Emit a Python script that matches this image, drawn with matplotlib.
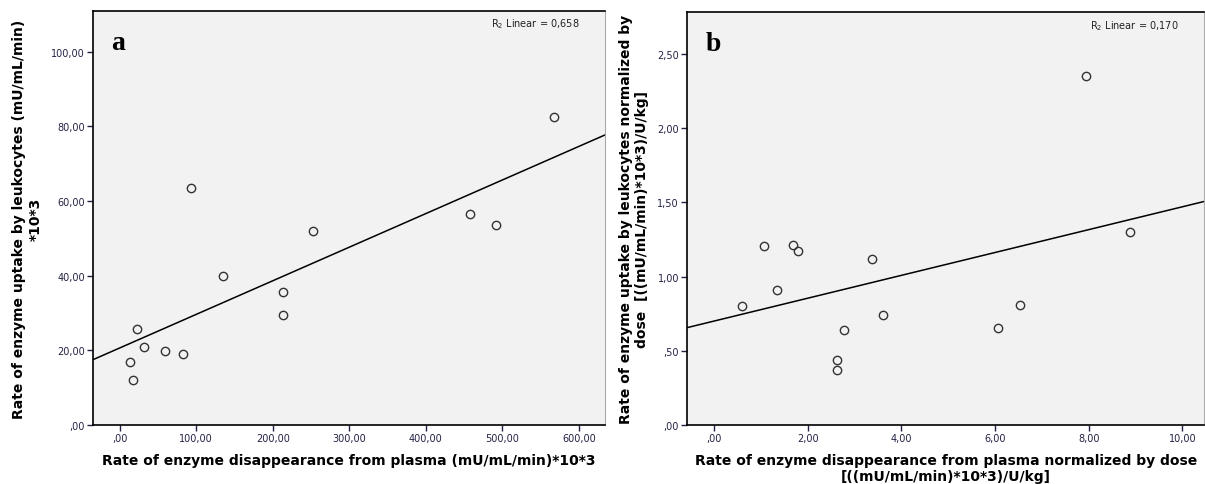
import numpy as np
import matplotlib.pyplot as plt
from matplotlib.ticker import FuncFormatter

# data
plasma_a = [12.8, 16.7, 22.4, 31.0, 59.4, 82.5, 93.3, 134.7, 213.0, 213.0, 253.0, 457.6, 491.5, 567.6]
uptake_a = [16.9, 12.1, 25.7, 20.8, 19.9, 19.0, 63.4, 40.0, 35.5, 29.6, 52.0, 56.5, 53.5, 82.5]

plasma_b = [0.60, 1.07, 1.34, 1.69, 1.79, 2.63, 2.63, 2.77, 3.37, 3.60, 6.06, 6.53, 7.93, 8.88]
uptake_b = [0.80, 1.206, 0.907, 1.213, 1.175, 0.44, 0.368, 0.638, 1.12, 0.739, 0.654, 0.809, 2.354, 1.298]

r2_a = "0,658"
r2_b = "0,170"

xlab_a = "Rate of enzyme disappearance from plasma (mU/mL/min)*10*3"
ylab_a = "Rate of enzyme uptake by leukocytes (mU/mL/min)\n*10*3"
xlab_b = "Rate of enzyme disappearance from plasma normalized by dose\n[((mU/mL/min)*10*3)/U/kg]"
ylab_b = "Rate of enzyme uptake by leukocytes normalized by\ndose  [((mU/mL/min)*10*3)/U/kg]"


def spss_fmt(v, pos):
    s = "%.2f" % v
    s = s.replace(".", ",")
    if s.startswith("0,"):
        s = s[1:]
    if s.startswith("-0,"):
        s = "-" + s[2:]
    return s


def panel(ax, x, y, xlim, ylim, xticks, yticks, letter, r2, xlab, ylab):
    ax.set_facecolor("#f2f2f2")
    x = np.array(x)
    y = np.array(y)
    k, b = np.polyfit(x, y, 1)
    xx = np.array(xlim)
    ax.plot(xx, k * xx + b, color="black", lw=1.1)
    ax.plot(x, y, "o", mfc="none", mec="#333333", mew=1.0, ms=6)
    ax.set_xlim(xlim)
    ax.set_ylim(ylim)
    ax.set_xticks(xticks)
    ax.set_yticks(yticks)
    ax.xaxis.set_major_formatter(FuncFormatter(spss_fmt))
    ax.yaxis.set_major_formatter(FuncFormatter(spss_fmt))
    ax.tick_params(labelsize=7, colors="#222244", length=4, width=1, pad=2)
    for s in ["left", "bottom", "top"]:
        ax.spines[s].set_color("black")
        ax.spines[s].set_linewidth(1.2)
    ax.spines["right"].set_color("#aaaaaa")
    ax.set_xlabel(xlab, fontsize=10, fontweight="bold", labelpad=7)
    ax.set_ylabel(ylab, fontsize=10, fontweight="bold", labelpad=6)
    ax.text(0.035, 0.925, letter, transform=ax.transAxes, fontsize=20,
            fontweight="bold", family="Liberation Serif", va="center")
    ax.text(0.95, 0.97, "R$_2$ Linear = " + r2, transform=ax.transAxes,
            fontsize=7, ha="right", va="center", color="#222222")


fig = plt.figure(figsize=(12.05, 4.85), dpi=100)
ax1 = fig.add_axes([0.0772, 0.1216, 0.4248, 0.8537])
ax2 = fig.add_axes([0.5704, 0.1216, 0.4288, 0.851])

panel(ax1, plasma_a, uptake_a, (-35, 634), (0, 110.9),
      [0, 100, 200, 300, 400, 500, 600], [0, 20, 40, 60, 80, 100],
      "a", r2_a, xlab_a, ylab_a)
panel(ax2, plasma_b, uptake_b, (-0.57, 10.46), (0, 2.78),
      [0, 2, 4, 6, 8, 10], [0, 0.5, 1.0, 1.5, 2.0, 2.5],
      "b", r2_b, xlab_b, ylab_b)

fig.savefig("out.png", dpi=100)
